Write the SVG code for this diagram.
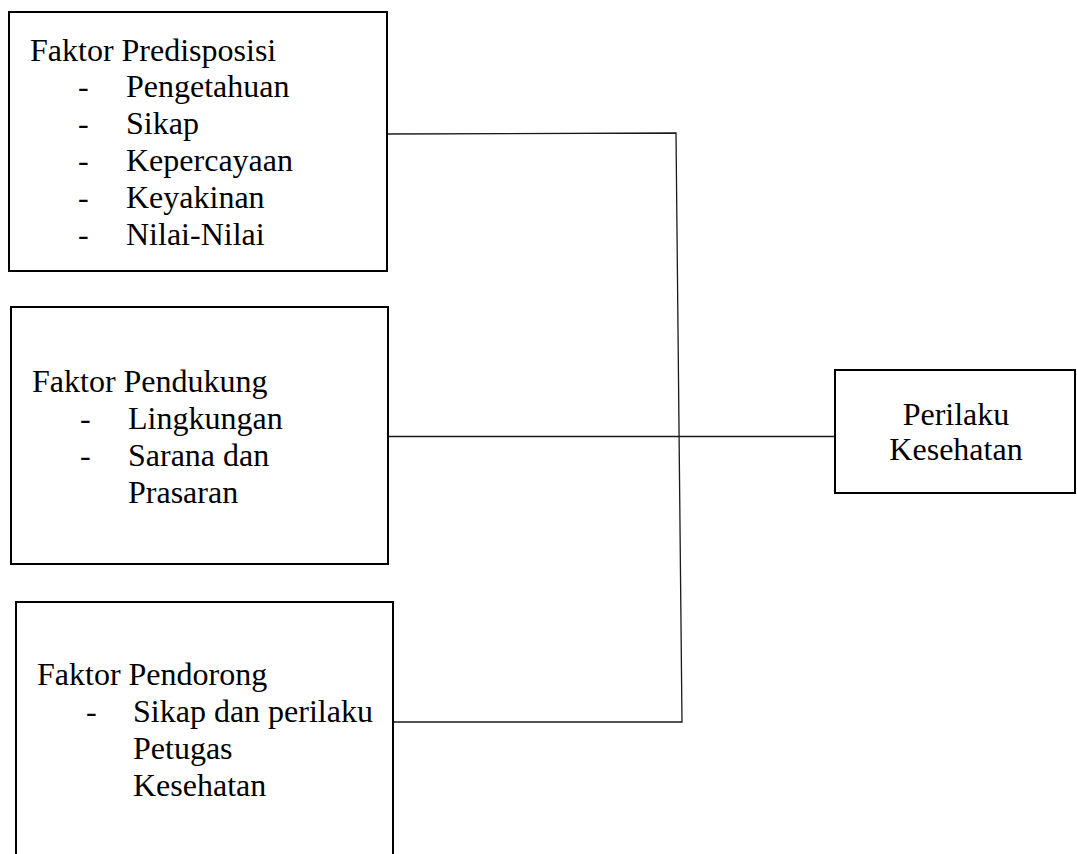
<svg xmlns="http://www.w3.org/2000/svg" width="1077" height="854" viewBox="0 0 1077 854">
<style>
.box{fill:#fff;stroke:#000;stroke-width:2}
.t{font-family:'Liberation Serif','Times New Roman',serif;font-size:32px;fill:#000}
.c{text-anchor:middle}
.conn{fill:none;stroke:#1a1a1a;stroke-width:1.3}
</style>
<rect width="1077" height="854" fill="#fff"/>
<g id="connectors">
<polyline class="conn" points="383,134 676,133 682,722 394,722"/>
<line class="conn" x1="388" y1="436.5" x2="835" y2="436.5"/>
</g>
<g id="faktor-predisposisi">
<rect class="box" x="9" y="12" width="378" height="259"/>
<text class="t" x="30" y="61">Faktor Predisposisi</text>
<text class="t" x="78" y="97">-</text><text class="t" x="126" y="97">Pengetahuan</text>
<text class="t" x="78" y="134">-</text><text class="t" x="126" y="134">Sikap</text>
<text class="t" x="78" y="171">-</text><text class="t" x="126" y="171">Kepercayaan</text>
<text class="t" x="78" y="208">-</text><text class="t" x="126" y="208">Keyakinan</text>
<text class="t" x="78" y="245">-</text><text class="t" x="126" y="245">Nilai-Nilai</text>
</g>
<g id="faktor-pendukung">
<rect class="box" x="11" y="307" width="377" height="257"/>
<text class="t" x="32" y="392">Faktor Pendukung</text>
<text class="t" x="80" y="429">-</text><text class="t" x="128" y="429">Lingkungan</text>
<text class="t" x="80" y="466">-</text><text class="t" x="128" y="466">Sarana dan</text>
<text class="t" x="128" y="503">Prasaran</text>
</g>
<g id="faktor-pendorong">
<rect class="box" x="16" y="602" width="377" height="280"/>
<text class="t" x="37" y="685">Faktor Pendorong</text>
<text class="t" x="86" y="722">-</text><text class="t" x="133" y="722">Sikap dan perilaku</text>
<text class="t" x="133" y="759">Petugas</text>
<text class="t" x="133" y="796">Kesehatan</text>
</g>
<g id="perilaku-kesehatan">
<rect class="box" x="835" y="370" width="240" height="123"/>
<text class="t c" x="956" y="425">Perilaku</text>
<text class="t c" x="956" y="460">Kesehatan</text>
</g>
</svg>
